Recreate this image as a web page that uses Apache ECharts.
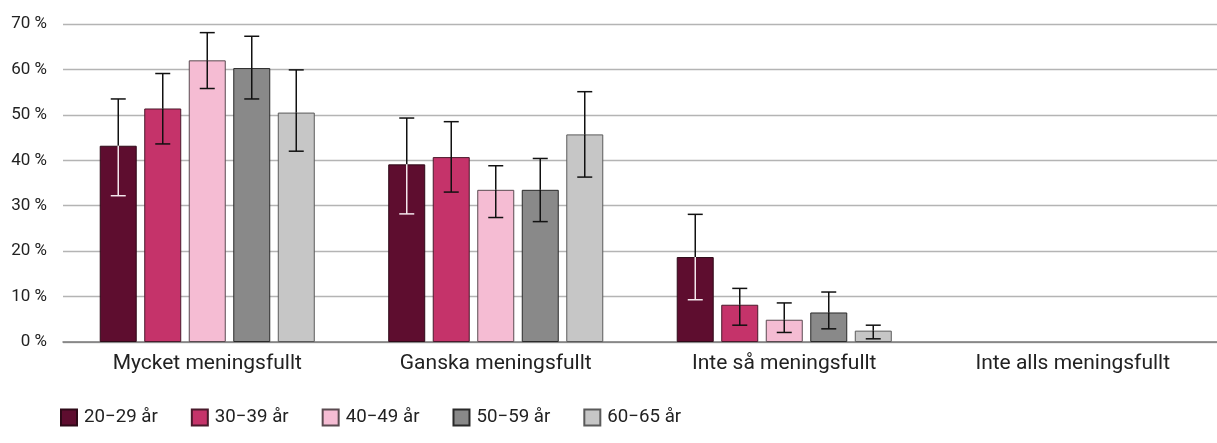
<!DOCTYPE html>
<html>
<head>
<meta charset="utf-8">
<style>
  html, body { margin: 0; padding: 0; background: #ffffff; }
  #chart { width: 1217px; height: 443px; }
</style>
<script src="https://cdn.jsdelivr.net/npm/echarts@6/dist/echarts.min.js"></script>
</head>
<body>
<div id="chart"></div>
<script>
// Answer categories and age groups
const categories = ['Mycket meningsfullt', 'Ganska meningsfullt', 'Inte så meningsfullt', 'Inte alls meningsfullt'];
const ageGroups = ['20−29 år', '30−39 år', '40−49 år', '50−59 år', '60−65 år'];
const yTicks = [0, 10, 20, 30, 40, 50, 60, 70];

// Share (%) per age group, one value per category (no answers in the last one)
const age20_29 = [43.2, 39.1, 18.7, null];
const age30_39 = [51.4, 40.7, 8.2, null];
const age40_49 = [62.0, 33.5, 4.9, null];
const age50_59 = [60.3, 33.5, 6.5, null];
const age60_65 = [50.5, 45.7, 2.5, null];

// Confidence interval bounds (%) per age group
const low20_29  = [32.2, 28.2, 9.3, null];
const high20_29 = [53.5, 49.3, 28.1, null];
const low30_39  = [43.6, 33.0, 3.7, null];
const high30_39 = [59.1, 48.5, 11.8, null];
const low40_49  = [55.8, 27.4, 2.1, null];
const high40_49 = [68.1, 38.8, 8.6, null];
const low50_59  = [53.5, 26.5, 2.9, null];
const high50_59 = [67.3, 40.4, 11.0, null];
const low60_65  = [42.0, 36.3, 0.7, null];
const high60_65 = [59.9, 55.1, 3.7, null];

const values = [age20_29, age30_39, age40_49, age50_59, age60_65];
const lows = [low20_29, low30_39, low40_49, low50_59, low60_65];
const highs = [high20_29, high30_39, high40_49, high50_59, high60_65];

const fills = ['#5e0d2f', '#c5336a', '#f5bcd3', '#898989', '#c6c6c6'];
const borders = ['#2e0a18', '#4a1a2c', '#5a4a50', '#2a2a2a', '#5a5a5a'];
// whisker colour inside the bar (light on the darkest bar)
const innerWhisker = ['#f3e6ec', '#111111', '#111111', '#111111', '#111111'];

const BAR_W = 37;
const BAR_GAP = 7.5;
const FONT = 'Roboto, "Noto Sans", sans-serif';

const chart = echarts.init(document.getElementById('chart'), null, { renderer: 'canvas' });

const series = [];
ageGroups.forEach((name, i) => {
  series.push({
    name: name,
    type: 'bar',
    data: values[i],
    barWidth: BAR_W,
    barGap: (BAR_GAP / BAR_W * 100).toFixed(1) + '%',
    itemStyle: { color: fills[i], borderColor: borders[i], borderWidth: 1 },
    emphasis: { disabled: true },
    z: 2
  });
});

ageGroups.forEach((name, i) => {
  const data = categories.map((c, k) => [k, lows[i][k], highs[i][k], values[i][k]]);
  series.push({
    type: 'custom',
    name: name + ' ci',
    data: data,
    z: 5,
    silent: true,
    legendHoverLink: false,
    renderItem: function (params, api) {
      const lo = api.value(1), hi = api.value(2), v = api.value(3);
      if (lo == null || hi == null || isNaN(lo) || isNaN(hi)) return null;
      const k = api.value(0);
      const offset = (i - 2) * (BAR_W + BAR_GAP);
      const pLo = api.coord([k, lo]);
      const pHi = api.coord([k, hi]);
      const pV = api.coord([k, v]);
      const x = pLo[0] + offset;
      const cap = 7.5;
      const outer = { stroke: '#111111', lineWidth: 1.5 };
      const inner = { stroke: innerWhisker[i], lineWidth: 1.5 };
      const children = [
        { type: 'line', shape: { x1: x, y1: pHi[1], x2: x, y2: pV[1] }, style: outer },
        { type: 'line', shape: { x1: x, y1: pV[1], x2: x, y2: pLo[1] }, style: inner },
        { type: 'line', shape: { x1: x - cap, y1: pHi[1], x2: x + cap, y2: pHi[1] }, style: outer },
        { type: 'line', shape: { x1: x - cap, y1: pLo[1], x2: x + cap, y2: pLo[1] }, style: inner }
      ];
      return { type: 'group', children: children };
    }
  });
});

chart.setOption({
  animation: false,
  backgroundColor: '#ffffff',
  textStyle: { fontFamily: FONT },
  legend: {
    data: ageGroups,
    left: 55,
    top: 403,
    itemWidth: 16,
    itemHeight: 16,
    itemGap: 33,
    icon: 'rect',
    textStyle: { fontSize: 18.7, color: '#222222', fontFamily: FONT, padding: [0, 0, 0, 2] },
    selectedMode: false
  },
  grid: { left: 63, right: -11, top: 24, bottom: 101, containLabel: false },
  xAxis: {
    type: 'category',
    data: categories,
    axisTick: { show: false },
    axisLine: { lineStyle: { color: '#7a7a7a', width: 1.5 } },
    axisLabel: { fontSize: 21, color: '#222222', margin: 11, fontFamily: FONT }
  },
  yAxis: {
    type: 'value',
    min: yTicks[0],
    max: yTicks[yTicks.length - 1],
    interval: 10,
    axisLine: { show: false },
    axisTick: { show: false },
    splitLine: { lineStyle: { color: '#b4b4b4', width: 1.3 } },
    axisLabel: {
      fontSize: 17, color: '#222222', margin: 16, fontFamily: FONT,
      formatter: v => v + ' %'
    }
  },
  series: series
});
</script>
</body>
</html>
